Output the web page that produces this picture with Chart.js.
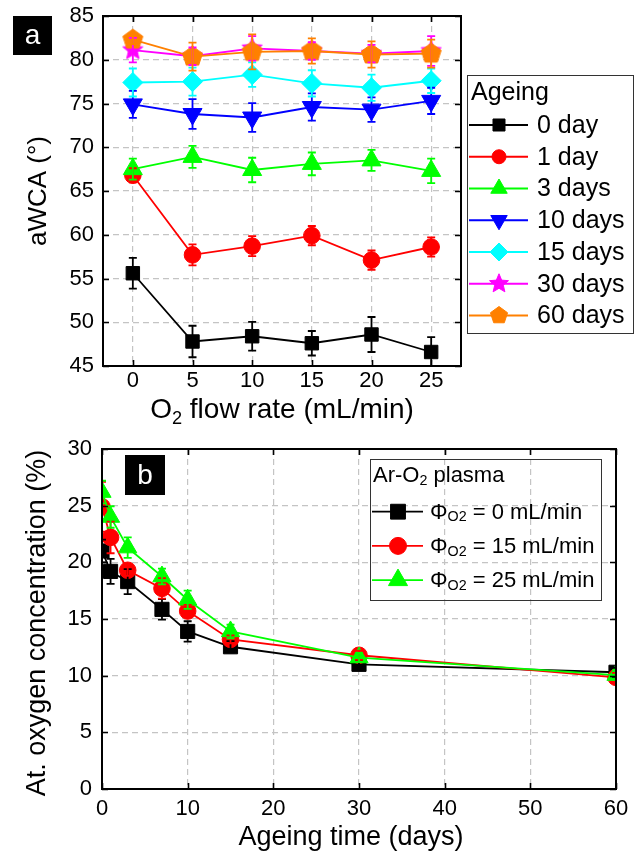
<!DOCTYPE html>
<html>
<head>
<meta charset="utf-8">
<script src="https://cdn.jsdelivr.net/npm/chart.js@4.4.1/dist/chart.umd.min.js"></script>
<style>
  html, body { margin: 0; padding: 0; background: #fff; }
  body { width: 639px; height: 852px; position: relative; overflow: hidden; }
  canvas { position: absolute; left: 0; }
  #wca { top: 0; }
  #oxy { top: 425px; }
</style>
</head>
<body>
<canvas id="wca" width="639" height="425"></canvas>
<canvas id="oxy" width="639" height="427"></canvas>
<script>
const FONT = '"Liberation Sans", Arial, Helvetica, sans-serif';
Chart.defaults.font.family = FONT;
Chart.defaults.color = '#000';

// ---------- (a) apparent water contact angle vs O2 flow rate ----------
const flowRates = [0, 5, 10, 15, 20, 25];
const flowTicks = [0, 5, 10, 15, 20, 25];
const ageingLabels = ['0 day', '1 day', '3 days', '10 days', '15 days', '30 days', '60 days'];

const wcaDay0   = [55.6, 47.8, 48.4, 47.6, 48.6, 46.6];
const wcaDay0E  = [1.75, 1.8, 1.65, 1.4, 2.0, 1.7];
const wcaDay1   = [66.8, 57.7, 58.7, 59.9, 57.1, 58.6];
const wcaDay1E  = [0.8, 1.2, 1.15, 1.1, 1.1, 1.1];
const wcaDay3   = [67.5, 68.9, 67.4, 68.1, 68.5, 67.3];
const wcaDay3E  = [1.2, 1.25, 1.4, 1.3, 1.2, 1.4];
const wcaDay10  = [74.9, 73.8, 73.4, 74.6, 74.3, 75.3];
const wcaDay10E = [1.55, 1.7, 1.65, 1.55, 1.4, 1.5];
const wcaDay15  = [77.4, 77.5, 78.3, 77.3, 76.8, 77.6];
const wcaDay15E = [1.6, 1.6, 1.4, 1.5, 1.5, 1.4];
const wcaDay30  = [81.1, 80.4, 81.3, 81.0, 80.7, 81.0];
const wcaDay30E = [1.4, 1.0, 1.4, 1.0, 1.0, 1.7];
const wcaDay60  = [82.3, 80.35, 80.9, 81.0, 80.6, 80.7];
const wcaDay60E = [0.5, 1.6, 2.0, 1.45, 1.5, 1.6];

// ---------- (b) atomic oxygen concentration vs ageing time ----------
const ageingDays = [0, 1, 3, 7, 10, 15, 30, 60];
const flowSeriesValues = ['0', '15', '25'];
const oxyFlow0   = [21.0, 19.2, 18.3, 15.85, 13.9, 12.55, 11.0, 10.3];
const oxyFlow0E  = [1.0, 1.1, 1.1, 0.9, 0.9, 0.5, 0.4, 0.4];
const oxyFlow15  = [24.9, 22.2, 19.3, 17.7, 15.7, 13.2, 11.8, 9.85];
const oxyFlow15E = [2.2, 1.4, 0.5, 0.9, 0.55, 0.35, 0.4, 0.4];
const oxyFlow25  = [26.2, 24.0, 21.3, 18.75, 16.7, 13.9, 11.6, 10.05];
const oxyFlow25E = [1.0, 0.95, 0.9, 0.7, 0.8, 0.6, 0.4, 0.4];

// ---------- marker drawing ----------
function polygonPath(g, cx, cy, r, n, innerR) {
  g.beginPath();
  const steps = innerR ? n * 2 : n;
  for (let k = 0; k < steps; k++) {
    const rr = innerR && (k % 2 === 1) ? innerR : r;
    const a = -Math.PI / 2 + k * (2 * Math.PI / steps);
    const px = cx + rr * Math.cos(a), py = cy + rr * Math.sin(a);
    if (k === 0) g.moveTo(px, py); else g.lineTo(px, py);
  }
  g.closePath();
}

function drawMarker(g, style, x, y, r, color) {
  g.save();
  g.fillStyle = color;
  g.strokeStyle = color;
  g.lineWidth = 1;
  switch (style) {
    case 'rect': {
      const s = r * Math.SQRT1_2;
      g.beginPath(); g.rect(x - s, y - s, 2 * s, 2 * s); break;
    }
    case 'circle':
      g.beginPath(); g.arc(x, y, r, 0, Math.PI * 2); break;
    case 'triangle':
      polygonPath(g, x, y, r, 3); break;
    case 'triangleDown':
      g.translate(x, y); g.rotate(Math.PI); polygonPath(g, 0, 0, r, 3); break;
    case 'rectRot':
      g.beginPath(); g.moveTo(x - r, y); g.lineTo(x, y - r); g.lineTo(x + r, y); g.lineTo(x, y + r); g.closePath(); break;
    case 'star':
      polygonPath(g, x, y, r, 5, r * 0.45); break;
    case 'pentagon':
      polygonPath(g, x, y, r, 5); break;
  }
  g.fill();
  g.stroke();
  g.restore();
}

function markerImage(style, r, color) {
  const size = Math.ceil(r * 2 + 4);
  const c = document.createElement('canvas');
  c.width = c.height = size;
  drawMarker(c.getContext('2d'), style, size / 2, size / 2, r, color);
  return c;
}

// ---------- shared plugins ----------
const errorBars = {
  id: 'errorBars',
  afterDatasetsDraw(chart) {
    const { ctx, chartArea: a } = chart;
    ctx.save();
    ctx.beginPath();
    ctx.rect(a.left, a.top, a.right - a.left, a.bottom - a.top);
    ctx.clip();
    chart.data.datasets.forEach((ds, i) => {
      const meta = chart.getDatasetMeta(i);
      const xs = meta.xScale, ys = meta.yScale;
      ctx.strokeStyle = ds.borderColor;
      ctx.lineWidth = 1.8;
      ds.data.forEach((pt, j) => {
        const e = ds.errors[j];
        const px = xs.getPixelForValue(pt.x);
        const top = ys.getPixelForValue(pt.y + e);
        const bot = ys.getPixelForValue(pt.y - e);
        const cap = ds.capHalf;
        ctx.beginPath();
        ctx.moveTo(px, top); ctx.lineTo(px, bot);
        ctx.moveTo(px - cap, top); ctx.lineTo(px + cap, top);
        ctx.moveTo(px - cap, bot); ctx.lineTo(px + cap, bot);
        ctx.stroke();
      });
    });
    ctx.restore();
  }
};

const frame = {
  id: 'frame',
  afterDraw(chart) {
    const { ctx, chartArea: a, scales: { x, y } } = chart;
    const len = 6;
    ctx.save();
    ctx.strokeStyle = '#000';
    ctx.lineWidth = 1.6;
    ctx.beginPath();
    x.ticks.forEach(t => {
      const px = Math.round(x.getPixelForValue(t.value)) + 0.5;
      ctx.moveTo(px, a.bottom); ctx.lineTo(px, a.bottom - len);
      ctx.moveTo(px, a.top); ctx.lineTo(px, a.top + len);
    });
    y.ticks.forEach(t => {
      const py = Math.round(y.getPixelForValue(t.value)) + 0.5;
      ctx.moveTo(a.left, py); ctx.lineTo(a.left + len, py);
      ctx.moveTo(a.right, py); ctx.lineTo(a.right - len, py);
    });
    ctx.stroke();
    ctx.lineWidth = 2;
    ctx.strokeRect(a.left, a.top, a.right - a.left, a.bottom - a.top);
    ctx.restore();
  }
};

// fixed axis box sizes; edge-label padding is left to layout.padding
function fixSize(prop, value) {
  return sc => {
    sc[prop] = value;
    sc.paddingTop = 0; sc.paddingBottom = 0;
    sc.paddingLeft = 0; sc.paddingRight = 0;
  };
}

// text with optional subscript pieces
function richWidth(g, parts, size) {
  let w = 0;
  parts.forEach(p => {
    g.font = `${p.sub ? size * 0.65 : size}px ${FONT}`;
    w += g.measureText(p.t).width;
  });
  return w;
}
function drawRich(g, parts, x, y, size, align) {
  let cx = align === 'center' ? x - richWidth(g, parts, size) / 2 : x;
  g.textAlign = 'left';
  parts.forEach(p => {
    g.font = `${p.sub ? size * 0.65 : size}px ${FONT}`;
    g.fillText(p.t, cx, p.sub ? y + size * 0.22 : y);
    cx += g.measureText(p.t).width;
  });
}

function panelTag(g, letter, x, y, w, h) {
  g.save();
  g.fillStyle = '#000';
  g.fillRect(x, y, w, h);
  g.fillStyle = '#fff';
  g.font = `28px ${FONT}`;
  g.textAlign = 'center';
  g.textBaseline = 'middle';
  g.fillText(letter, x + w / 2, y + h / 2 + 1);
  g.restore();
}

function gridOpts() {
  return { color: '#c4c4c4', lineWidth: 1.2, drawTicks: false };
}

// ---------- chart (a) ----------
const wcaSeries = [
  { values: wcaDay0,  errors: wcaDay0E,  color: '#000000', style: 'rect',         r: 9.5 },
  { values: wcaDay1,  errors: wcaDay1E,  color: '#ff0000', style: 'circle',       r: 8.3 },
  { values: wcaDay3,  errors: wcaDay3E,  color: '#00ff00', style: 'triangle',     r: 11 },
  { values: wcaDay10, errors: wcaDay10E, color: '#0000ff', style: 'triangleDown', r: 11 },
  { values: wcaDay15, errors: wcaDay15E, color: '#00ffff', style: 'rectRot',      r: 10 },
  { values: wcaDay30, errors: wcaDay30E, color: '#ff00ff', style: 'star',         r: 10.5 },
  { values: wcaDay60, errors: wcaDay60E, color: '#ff8000', style: 'pentagon',     r: 10.5 }
];

function pointStyleFor(s) {
  if (s.style === 'star' || s.style === 'pentagon') return markerImage(s.style, s.r, s.color);
  if (s.style === 'triangleDown') return 'triangle';
  return s.style;
}

const wcaLegend = {
  id: 'wcaLegend',
  afterDraw(chart) {
    const g = chart.ctx;
    g.save();
    g.strokeStyle = '#333';
    g.lineWidth = 1;
    g.strokeRect(467.5, 75.5, 166, 258);
    g.fillStyle = '#000';
    g.textBaseline = 'middle';
    g.font = `25px ${FONT}`;
    g.fillText('Ageing', 471, 93);
    const legendR = { rect: 8.5, circle: 7, triangle: 9.5, triangleDown: 9.5, rectRot: 9, star: 10, pentagon: 9 };
    wcaSeries.forEach((s, i) => {
      const yy = 125 + i * 31.75;
      g.strokeStyle = s.color;
      g.lineWidth = 1.8;
      g.beginPath(); g.moveTo(469, yy); g.lineTo(528, yy); g.stroke();
      drawMarker(g, s.style, 499, yy, legendR[s.style], s.color);
      g.fillStyle = '#000';
      g.font = `25px ${FONT}`;
      g.fillText(ageingLabels[i], 537, yy + 1);
    });
    g.restore();
  }
};

const wcaTitles = {
  id: 'wcaTitles',
  afterDraw(chart) {
    const g = chart.ctx;
    g.save();
    g.fillStyle = '#000';
    g.textBaseline = 'alphabetic';
    drawRich(g, [{ t: 'O' }, { t: '2', sub: true }, { t: ' flow rate (mL/min)' }], 282, 418, 28, 'center');
    g.translate(46, 191);
    g.rotate(-Math.PI / 2);
    drawRich(g, [{ t: 'aWCA (°)' }], 0, 0, 26, 'center');
    g.restore();
    panelTag(g, 'a', 13, 16, 39, 39);
  }
};

new Chart(document.getElementById('wca'), {
  type: 'line',
  data: {
    datasets: wcaSeries.map((s, i) => ({
      label: ageingLabels[i],
      data: flowRates.map((f, j) => ({ x: f, y: s.values[j] })),
      errors: s.errors,
      capHalf: 4,
      borderColor: s.color,
      backgroundColor: s.color,
      borderWidth: 1.8,
      pointStyle: pointStyleFor(s),
      pointRotation: s.style === 'triangleDown' ? 180 : 0,
      pointRadius: s.r,
      pointBorderWidth: 1,
      pointBorderColor: s.color,
      pointBackgroundColor: s.color,
      tension: 0,
      order: -i
    }))
  },
  options: {
    responsive: false,
    animation: false,
    devicePixelRatio: 1,
    events: [],
    layout: { padding: { left: 0, top: 16, right: 178, bottom: 0 } },
    plugins: { legend: { display: false }, tooltip: { enabled: false } },
    scales: {
      x: {
        type: 'linear', min: -2.5, max: 27.5,
        afterBuildTicks: sc => { sc.ticks = flowTicks.map(v => ({ value: v })); },
        afterFit: fixSize('height', 59),
        grid: gridOpts(),
        border: { display: false, dash: [6, 4] },
        ticks: { font: { size: 22 }, color: '#000', padding: 2 }
      },
      y: {
        type: 'linear', min: 45, max: 85,
        afterFit: fixSize('width', 103),
        grid: gridOpts(),
        border: { display: false, dash: [6, 4] },
        ticks: { stepSize: 5, font: { size: 22 }, color: '#000', padding: 9 }
      }
    }
  },
  plugins: [errorBars, frame, wcaLegend, wcaTitles]
});

// ---------- chart (b) ----------
const oxySeries = [
  { values: oxyFlow0,  errors: oxyFlow0E,  color: '#000000', style: 'rect',     r: 10 },
  { values: oxyFlow15, errors: oxyFlow15E, color: '#ff0000', style: 'circle',   r: 8.3 },
  { values: oxyFlow25, errors: oxyFlow25E, color: '#00ff00', style: 'triangle', r: 10.5 }
];

const oxyLegend = {
  id: 'oxyLegend',
  afterDraw(chart) {
    const g = chart.ctx;
    g.save();
    g.strokeStyle = '#333';
    g.lineWidth = 1;
    g.strokeRect(370.5, 34.5, 231, 141);
    g.fillStyle = '#000';
    g.textBaseline = 'middle';
    drawRich(g, [{ t: 'Ar-O' }, { t: '2', sub: true }, { t: ' plasma' }], 373, 51, 22, 'left');
    const legendR = { rect: 10.5, circle: 8.5, triangle: 11 };
    oxySeries.forEach((s, i) => {
      const yy = 86.7 + i * 34.2;
      g.strokeStyle = s.color;
      g.lineWidth = 1.8;
      g.beginPath(); g.moveTo(372, yy); g.lineTo(423, yy); g.stroke();
      drawMarker(g, s.style, 398, yy, legendR[s.style], s.color);
      g.fillStyle = '#000';
      drawRich(g, [{ t: 'Φ' }, { t: 'O2', sub: true }, { t: ' = ' + flowSeriesValues[i] + ' mL/min' }], 430, yy + 1, 22, 'left');
    });
    g.restore();
  }
};

const oxyTitles = {
  id: 'oxyTitles',
  afterDraw(chart) {
    const g = chart.ctx;
    g.save();
    g.fillStyle = '#000';
    g.textBaseline = 'alphabetic';
    drawRich(g, [{ t: 'Ageing time (days)' }], 351, 420, 27, 'center');
    g.translate(45, 198);
    g.rotate(-Math.PI / 2);
    drawRich(g, [{ t: 'At. oxygen concentration (%)' }], 0, 0, 27, 'center');
    g.restore();
    panelTag(g, 'b', 125, 30, 40, 40);
  }
};

new Chart(document.getElementById('oxy'), {
  type: 'line',
  data: {
    datasets: oxySeries.map((s, i) => ({
      label: flowSeriesValues[i],
      data: ageingDays.map((d, j) => ({ x: d, y: s.values[j] })),
      errors: s.errors,
      capHalf: 4,
      borderColor: s.color,
      backgroundColor: s.color,
      borderWidth: 1.8,
      pointStyle: s.style,
      pointRadius: s.r,
      pointBorderWidth: 1,
      pointBorderColor: s.color,
      pointBackgroundColor: s.color,
      tension: 0,
      order: -i
    }))
  },
  options: {
    responsive: false,
    animation: false,
    devicePixelRatio: 1,
    events: [],
    layout: { padding: { left: 0, top: 24, right: 23, bottom: 0 } },
    plugins: { legend: { display: false }, tooltip: { enabled: false } },
    scales: {
      x: {
        type: 'linear', min: 0, max: 60,
        afterFit: fixSize('height', 63),
        grid: gridOpts(),
        border: { display: false, dash: [6, 4] },
        ticks: { stepSize: 10, font: { size: 22 }, color: '#000', padding: 7 }
      },
      y: {
        type: 'linear', min: 0, max: 30,
        afterFit: fixSize('width', 102),
        grid: gridOpts(),
        border: { display: false, dash: [6, 4] },
        ticks: { stepSize: 5, font: { size: 22 }, color: '#000', padding: 10 }
      }
    }
  },
  plugins: [errorBars, frame, oxyLegend, oxyTitles]
});
</script>
</body>
</html>
